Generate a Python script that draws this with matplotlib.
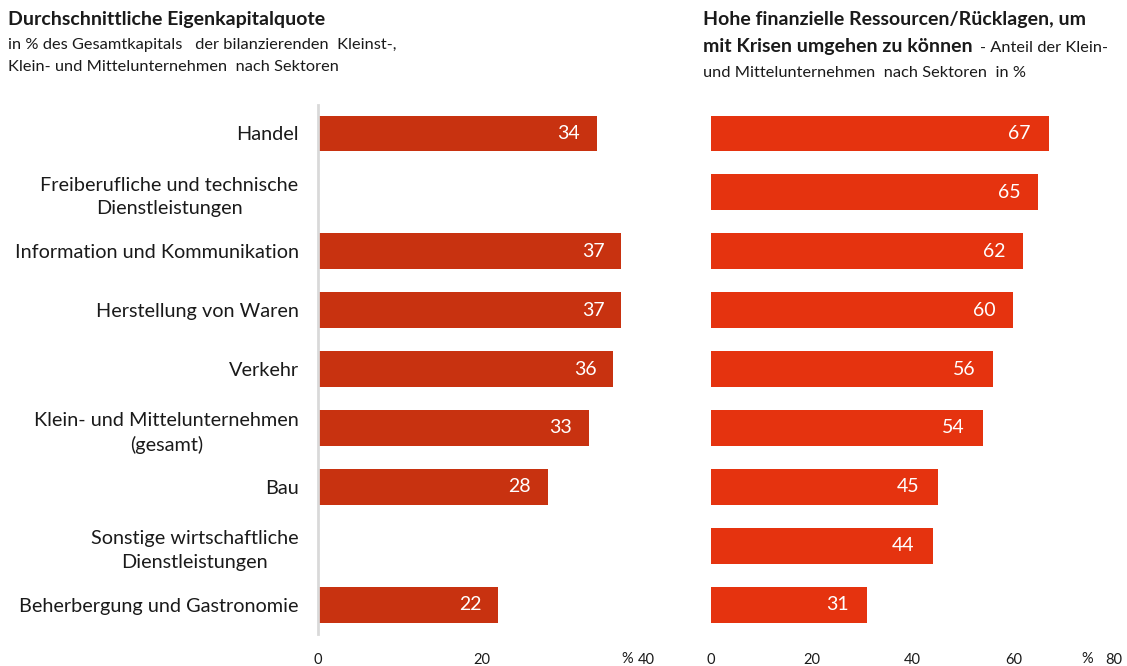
import matplotlib.pyplot as plt
import numpy as np

plt.rcParams['font.family'] = ['Lato', 'DejaVu Sans']

# data
sectors = [
    "Handel",
    "Freiberufliche und technische\nDienstleistungen",
    "Information und Kommunikation",
    "Herstellung von Waren",
    "Verkehr",
    "Klein- und Mittelunternehmen\n(gesamt)",
    "Bau",
    "Sonstige wirtschaftliche\nDienstleistungen",
    "Beherbergung und Gastronomie",
]
equity_ratio = [34, None, 37, 37, 36, 33, 28, None, 22]
reserves_share = [67, 65, 62, 60, 56, 54, 45, 44, 31]

left_ticks = [0, 20, 40]
right_ticks = [0, 20, 40, 60, 80]

col_left = "#C83210"
col_right = "#E5330F"
txt = "#1a1a1a"

fig = plt.figure(figsize=(11.27, 6.66), dpi=100)
ax1 = fig.add_axes([0.2822, 0.048, 0.2910, 0.794])
ax2 = fig.add_axes([0.6309, 0.048, 0.3576, 0.794])

y = np.arange(len(sectors))
bar_h = 0.61

# left panel
for i, v in enumerate(equity_ratio):
    if v is None:
        continue
    ax1.barh(i, v, height=bar_h, color=col_left)
    ax1.annotate(str(v), xy=(v, i), xytext=(-12, 0), textcoords='offset points',
                 ha='right', va='center', color='white', fontsize=14)
ax1.set_xlim(0, 40)
ax1.set_ylim(8.5, -0.48)
ax1.set_yticks(y)
ax1.set_yticklabels(sectors, fontsize=14.3, color=txt, multialignment='center',
                    linespacing=1.45)
ax1.set_xticks(left_ticks)
ax1.set_xticklabels([str(t) for t in left_ticks], fontsize=10.5, color=txt)
ax1.tick_params(axis='both', length=0)
ax1.tick_params(axis='x', pad=14)
ax1.tick_params(axis='y', pad=14)
for s in ['top', 'right', 'bottom']:
    ax1.spines[s].set_visible(False)
ax1.spines['left'].set_color('#d9d9d9')
ax1.spines['left'].set_linewidth(2)
ax1.text(37.7, -0.034, "%", transform=ax1.get_xaxis_transform(), ha='center', va='top',
         fontsize=10.5, color=txt)

# right panel
for i, v in enumerate(reserves_share):
    ax2.barh(i, v, height=bar_h, color=col_right)
    ax2.annotate(str(v), xy=(v, i), xytext=(-13, 0), textcoords='offset points',
                 ha='right', va='center', color='white', fontsize=14)
ax2.set_xlim(0, 80)
ax2.set_ylim(8.5, -0.48)
ax2.set_yticks([])
ax2.set_xticks(right_ticks)
ax2.set_xticklabels([str(t) for t in right_ticks], fontsize=10.5, color=txt)
ax2.tick_params(axis='both', length=0)
ax2.tick_params(axis='x', pad=14)
for s in ['top', 'right', 'bottom', 'left']:
    ax2.spines[s].set_visible(False)
ax2.text(74.6, -0.034, "%", transform=ax2.get_xaxis_transform(), ha='center', va='top',
         fontsize=10.5, color=txt)

# titles
fig.text(8 / 1127, 1 - 20 / 666, "Durchschnittliche Eigenkapitalquote", fontsize=14,
         fontweight='bold', color=txt, va='center')
fig.text(8 / 1127, 1 - 45 / 666, "in % des Gesamtkapitals   der bilanzierenden  Kleinst-,",
         fontsize=11.8, color=txt, va='center')
fig.text(8 / 1127, 1 - 67 / 666, "Klein- und Mittelunternehmen  nach Sektoren",
         fontsize=11.8, color=txt, va='center')

fig.text(703 / 1127, 1 - 20 / 666, "Hohe finanzielle Ressourcen/Rücklagen, um", fontsize=14,
         fontweight='bold', color=txt, va='center')
t2 = fig.text(703 / 1127, 1 - 52 / 666, "mit Krisen umgehen zu können", fontsize=14,
              fontweight='bold', color=txt, va='baseline')
fig.canvas.draw()
bb = t2.get_window_extent()
fig.text(bb.x1 / fig.bbox.width + 7 / 1127, 1 - 52 / 666, "- Anteil der Klein-",
         fontsize=11.8, color=txt, va='baseline')
fig.text(703 / 1127, 1 - 73 / 666, "und Mittelunternehmen  nach Sektoren  in %",
         fontsize=11.8, color=txt, va='center')

fig.savefig("out.png", dpi=100)
